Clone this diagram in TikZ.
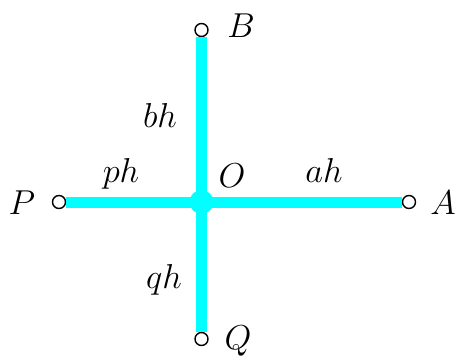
\documentclass[tikz,border=0pt]{standalone}
\definecolor{armcyan}{RGB}{0,255,255}
\begin{document}
\begin{tikzpicture}[x=0.5pt,y=-0.5pt,
  arm/.style={line width=5.5pt,armcyan},
  endpt/.style={circle,draw=black,fill=white,line width=0.7pt,inner sep=0pt,minimum size=6.5pt},
  lbl/.style={font=\fontsize{19}{22}\selectfont,inner sep=0pt,anchor=base}]
\useasboundingbox (0,0) rectangle (459,358);
\coordinate (O) at (201.5,202);
\node[endpt] (B) at (201.5,30) {};
\node[endpt] (Q) at (201.5,339) {};
\node[endpt] (P) at (59,202) {};
\node[endpt] (A) at (409,202) {};
\draw[arm] (O) -- (B);
\draw[arm] (O) -- (Q);
\draw[arm] (O) -- (P);
\draw[arm] (O) -- (A);
\fill[armcyan] (O) circle (6pt);
\node[lbl] (lB) at (241,38) {$B$};
\node[lbl] (lQ) at (238,349) {$Q$};
\node[lbl] (lP) at (22,214) {$P$};
\node[lbl] (lA) at (443,214) {$A$};
\node[lbl] (lO) at (232,187) {$O$};
\node[lbl] (lbh) at (160,127) {$bh$};
\node[lbl] (lph) at (121,182) {$ph$};
\node[lbl] (lah) at (324,182) {$ah$};
\node[lbl] (lqh) at (164,288) {$qh$};
\end{tikzpicture}
\end{document}
